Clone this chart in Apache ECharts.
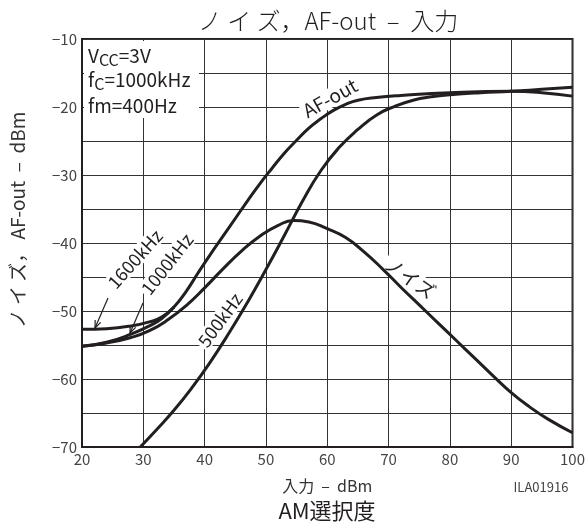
<!DOCTYPE html>
<html>
<head>
<meta charset="utf-8">
<script src="https://cdn.jsdelivr.net/npm/echarts@6/dist/echarts.min.js"></script>
<style>
html,body{margin:0;padding:0;background:#fff;}
#chart{width:588px;height:529px;}
</style>
</head>
<body>
<div id="chart"></div>
<script>
// ---- data ----
var xTicks = [20, 30, 40, 50, 60, 70, 80, 90, 100];
var yTicks = [-70, -60, -50, -40, -30, -20, -10];

var af1600X = [20, 24, 28, 31, 33, 35, 37, 39, 41, 43, 45, 47, 49, 51, 53, 55, 57, 59, 61, 63, 65, 68, 72, 80, 90, 95, 100];
var af1600Y = [-52.7, -52.6, -52.2, -51.6, -50.9, -49.4, -47.1, -44.3, -41.6, -39.0, -36.4, -33.8, -31.3, -29.0, -26.8, -24.9, -23.1, -21.7, -20.5, -19.6, -19.0, -18.6, -18.3, -17.9, -17.7, -17.9, -18.4];

var af1000X = [20, 24, 28, 31, 33, 35];
var af1000Y = [-55.2, -54.6, -53.4, -52.2, -51.1, -49.4];

var af500X = [29.5, 32, 35, 38, 41, 44, 47, 50, 53, 56, 59, 62, 65, 68, 71, 74, 77, 80, 85, 90, 95, 100];
var af500Y = [-70, -67.6, -64.6, -61.2, -57.4, -53.2, -48.7, -43.9, -38.9, -33.8, -29.3, -25.9, -23.3, -21.2, -19.9, -19.0, -18.5, -18.2, -17.9, -17.7, -17.4, -17.1];

var noiseX = [20, 24, 28, 31, 34, 37, 40, 43, 46, 49, 52, 54.5, 57, 60, 63, 66, 69, 72, 75, 78, 81, 84, 87, 90, 93, 96, 100];
var noiseY = [-55.2, -54.7, -53.9, -52.9, -51.3, -49.2, -46.6, -43.8, -41.2, -39.0, -37.4, -36.7, -36.9, -37.9, -39.2, -41.3, -43.8, -46.5, -49.1, -51.7, -54.3, -56.9, -59.5, -62.0, -64.1, -65.9, -67.9];

function pairs(xs, ys) { return xs.map(function (x, i) { return [x, ys[i]]; }); }

var INK = '#231f20';
var FONT = '"Noto Sans CJK JP", "Noto Sans", sans-serif';

function arrow(x1, y1, x2, y2) {
  var dx = x2 - x1, dy = y2 - y1, L = Math.sqrt(dx * dx + dy * dy);
  var ux = dx / L, uy = dy / L, h = 8, a = 22 * Math.PI / 180;
  function rot(t) { return [ux * Math.cos(t) - uy * Math.sin(t), ux * Math.sin(t) + uy * Math.cos(t)]; }
  var r1 = rot(a), r2 = rot(-a);
  return [
    { type: 'polyline', z: 3, shape: { points: [[x1, y1], [x2, y2]] }, style: { stroke: INK, lineWidth: 1.2, fill: null } },
    { type: 'polyline', z: 3, shape: { points: [[x2 - h * r1[0], y2 - h * r1[1]], [x2, y2], [x2 - h * r2[0], y2 - h * r2[1]]] }, style: { stroke: INK, lineWidth: 1.2, fill: null } }
  ];
}

function rotLabel(text, x, y, deg, size) {
  return {
    type: 'text', z: 1, x: x, y: y, rotation: deg * Math.PI / 180,
    style: { text: text, fill: INK, font: size + 'px ' + FONT, align: 'center', verticalAlign: 'middle',
      backgroundColor: '#fff', padding: [0, 2] }
  };
}

var chart = echarts.init(document.getElementById('chart'), null, { renderer: 'canvas' });

var lineStyle = { color: INK, width: 3 };
function mkSeries(name, data) {
  return { name: name, type: 'line', data: data, smooth: 0.5, showSymbol: false,
    symbol: 'none', lineStyle: lineStyle, z: 2, clip: true, sampling: null };
}

var option = {
  animation: false,
  backgroundColor: '#fff',
  grid: { left: 82, right: 15, top: 39, bottom: 82, show: true, borderColor: INK, borderWidth: 2, backgroundColor: 'transparent' },
  xAxis: {
    type: 'value', min: 20, max: 100, interval: 10,
    name: '入力  –  dBm', nameLocation: 'middle', nameGap: 31,
    nameTextStyle: { color: '#333', fontSize: 16, fontFamily: FONT },
    axisLine: { show: true, lineStyle: { color: INK, width: 2 } },
    axisTick: { show: false },
    splitLine: { show: true, lineStyle: { color: '#333', width: 1 } },
    axisLabel: { color: '#444', fontSize: 15, fontFamily: FONT, margin: 5,
      formatter: function (v) { return xTicks.indexOf(v) >= 0 ? String(v) : ''; } }
  },
  yAxis: {
    type: 'value', min: -70, max: -10, interval: 5,
    axisLine: { show: true, lineStyle: { color: INK, width: 2 } },
    axisTick: { show: false },
    splitLine: { show: true, lineStyle: { color: '#333', width: 1 } },
    axisLabel: { color: '#444', fontSize: 15, fontFamily: FONT, margin: 5,
      formatter: function (v) { return yTicks.indexOf(v) >= 0 ? '−' + Math.abs(v) : ''; } }
  },
  series: [
    mkSeries('AF-out 1600kHz', pairs(af1600X, af1600Y)),
    mkSeries('AF-out 1000kHz', pairs(af1000X, af1000Y)),
    mkSeries('AF-out 500kHz', pairs(af500X, af500Y)),
    mkSeries('ノイズ', pairs(noiseX, noiseY))
  ],
  graphic: [
    // title
    { type: 'text', x: 328, y: 21, z: 5, style: { text: 'ノ イ ズ，AF-out  –  入力', fill: INK, font: '300 24px ' + FONT, align: 'center', verticalAlign: 'middle' } },
    // y axis name
    { type: 'text', x: 18, y: 220, z: 5, rotation: Math.PI / 2, style: { text: 'ノ イ ズ， AF-out  –  dBm', fill: '#333', font: '19px ' + FONT, align: 'center', verticalAlign: 'middle' } },
    // bottom caption
    { type: 'text', x: 327, y: 511, z: 5, style: { text: 'AM選択度', fill: INK, font: '22px ' + FONT, align: 'center', verticalAlign: 'middle' } },
    { type: 'text', x: 541, y: 487, z: 5, style: { text: 'ILA01916', fill: '#444', font: '13px ' + FONT, align: 'center', verticalAlign: 'middle' } },
    // condition box
    { type: 'rect', z: 1, shape: { x: 84, y: 41, width: 115, height: 77 }, style: { fill: '#fff' } },
    { type: 'text', x: 88, y: 56, z: 5, style: { text: 'V{s|CC}=3V', fill: INK, font: '19px ' + FONT, verticalAlign: 'middle',
        rich: { s: { fontSize: 16, fontFamily: FONT, fill: INK, padding: [8, 0, 0, 0] } } } },
    { type: 'text', x: 88, y: 80, z: 5, style: { text: 'f{s|C}=1000kHz', fill: INK, font: '19px ' + FONT, verticalAlign: 'middle',
        rich: { s: { fontSize: 16, fontFamily: FONT, fill: INK, padding: [8, 0, 0, 0] } } } },
    { type: 'text', x: 88, y: 106, z: 5, style: { text: 'fm=400Hz', fill: INK, font: '19px ' + FONT, verticalAlign: 'middle' } },
    // curve labels
    rotLabel('AF-out', 330, 98, 29, 19),
    rotLabel('1600kHz', 135, 259, 48, 18),
    rotLabel('1000kHz', 167, 264, 52, 18),
    rotLabel('500kHz', 220, 320, 54, 18),
    rotLabel('ノイズ', 410, 278, -35, 19)
  ].concat(arrow(108, 298, 95, 328)).concat(arrow(143, 303, 130, 333))
};
chart.setOption(option);
</script>
</body>
</html>
